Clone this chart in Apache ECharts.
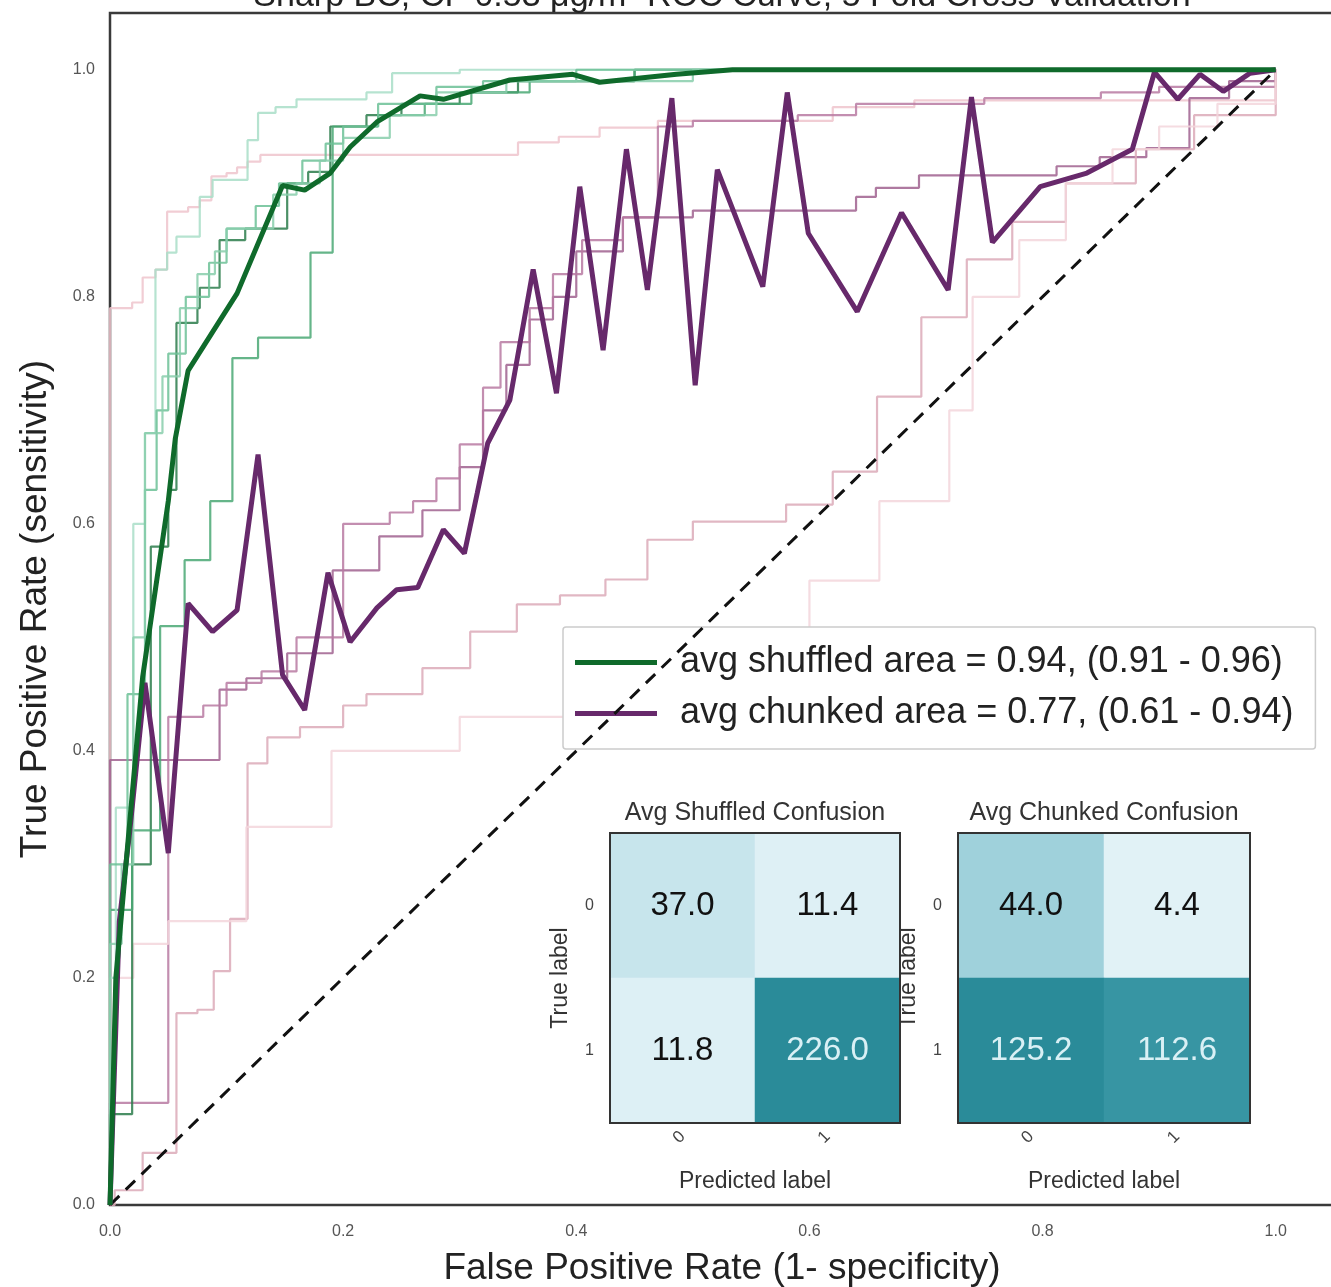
<!DOCTYPE html>
<html>
<head>
<meta charset="utf-8">
<title>ROC</title>
<script src="https://cdn.jsdelivr.net/npm/echarts@6/dist/echarts.min.js"></script>
<style>
  html, body { margin: 0; padding: 0; background: #fff; }
  #chart { width: 1331px; height: 1287px; }
</style>
</head>
<body>
<div id="chart"></div>
<script type="text/javascript">
// each point is [fpr, tpr] where the ROC step lands
var shuffledFolds = [
  [[0,0],[0,0.08],[0.019,0.3],[0.035,0.58],[0.05,0.63],[0.057,0.777],[0.075,0.79],[0.077,0.808],[0.094,0.85],[0.116,0.86],[0.152,0.9],[0.17,0.91],[0.189,0.95],[0.22,0.96],[0.25,0.97],[0.3,0.98],[0.35,0.99],[0.45,1],[1,1]],
  [[0,0],[0,0.26],[0.019,0.33],[0.043,0.51],[0.064,0.568],[0.086,0.62],[0.105,0.746],[0.127,0.764],[0.172,0.839],[0.191,0.95],[0.23,0.96],[0.27,0.97],[0.31,0.98],[0.36,0.99],[0.45,1],[1,1]],
  [[0,0],[0,0.2],[0.005,0.35],[0.02,0.6],[0.03,0.68],[0.039,0.824],[0.049,0.839],[0.057,0.853],[0.077,0.888],[0.088,0.903],[0.118,0.938],[0.127,0.962],[0.142,0.967],[0.16,0.974],[0.22,0.98],[0.242,0.997],[0.3,1],[1,1]],
  [[0,0],[0,0.3],[0.015,0.45],[0.03,0.63],[0.04,0.7],[0.05,0.75],[0.065,0.8],[0.085,0.83],[0.1,0.86],[0.125,0.88],[0.145,0.9],[0.165,0.92],[0.185,0.935],[0.2,0.95],[0.23,0.97],[0.28,0.985],[0.32,0.99],[0.4,1],[1,1]],
  [[0,0],[0,0.23],[0.01,0.3],[0.02,0.5],[0.03,0.68],[0.045,0.73],[0.06,0.79],[0.075,0.82],[0.09,0.84],[0.1,0.86],[0.14,0.89],[0.16,0.9],[0.18,0.92],[0.2,0.94],[0.24,0.96],[0.28,0.98],[0.34,0.99],[0.5,1],[1,1]]
];
var chunkedFolds = [
  [[0,0],[0,0.79],[0.019,0.795],[0.028,0.817],[0.039,0.824],[0.049,0.875],[0.067,0.879],[0.077,0.885],[0.087,0.906],[0.1,0.909],[0.109,0.914],[0.118,0.919],[0.129,0.925],[0.35,0.936],[0.385,0.941],[0.42,0.949],[0.47,0.955],[0.62,0.967],[0.69,0.973],[1,1]],
  [[0,0],[0,0.392],[0.094,0.454],[0.117,0.464],[0.152,0.486],[0.191,0.559],[0.231,0.589],[0.268,0.612],[0.3,0.65],[0.32,0.7],[0.34,0.74],[0.36,0.78],[0.38,0.8],[0.4,0.84],[0.44,0.87],[0.5,0.876],[0.64,0.888],[0.657,0.896],[0.694,0.907],[0.812,0.915],[0.849,0.923],[0.889,0.931],[0.926,0.975],[0.96,0.99],[1,1]],
  [[0,0],[0,0.09],[0.05,0.43],[0.08,0.44],[0.1,0.46],[0.13,0.47],[0.16,0.5],[0.2,0.6],[0.24,0.61],[0.26,0.62],[0.28,0.64],[0.3,0.67],[0.32,0.72],[0.335,0.76],[0.36,0.79],[0.38,0.82],[0.405,0.85],[0.44,0.87],[0.47,0.95],[0.5,0.955],[0.59,0.96],[0.64,0.97],[0.75,0.975],[0.85,0.98],[0.9,0.985],[1,1]],
  [[0,0],[0.004,0.013],[0.028,0.046],[0.057,0.169],[0.075,0.172],[0.089,0.206],[0.103,0.252],[0.118,0.389],[0.135,0.412],[0.163,0.421],[0.2,0.44],[0.22,0.45],[0.268,0.473],[0.309,0.505],[0.349,0.529],[0.386,0.537],[0.425,0.551],[0.461,0.586],[0.5,0.602],[0.58,0.617],[0.62,0.646],[0.658,0.712],[0.696,0.782],[0.735,0.833],[0.774,0.866],[0.82,0.9],[0.88,0.93],[0.93,0.96],[1,1]],
  [[0,0],[0,0.2],[0.02,0.23],[0.05,0.25],[0.117,0.333],[0.19,0.4],[0.3,0.43],[0.4,0.45],[0.5,0.48],[0.6,0.55],[0.66,0.62],[0.72,0.7],[0.74,0.8],[0.78,0.85],[0.82,0.9],[0.86,0.93],[0.9,0.95],[0.95,0.97],[1,1]]
];
var avgShuffled = [[0,0],[0.005,0.2],[0.028,0.465],[0.05,0.62],[0.056,0.675],[0.067,0.735],[0.109,0.803],[0.148,0.898],[0.167,0.894],[0.189,0.909],[0.206,0.932],[0.229,0.954],[0.266,0.977],[0.286,0.974],[0.343,0.991],[0.397,0.996],[0.42,0.989],[0.486,0.996],[0.534,1],[1,1]];
var avgChunked = [[0,0],[0.008,0.25],[0.017,0.33],[0.03,0.46],[0.05,0.31],[0.067,0.53],[0.088,0.505],[0.109,0.524],[0.127,0.661],[0.148,0.467],[0.167,0.436],[0.187,0.557],[0.206,0.496],[0.229,0.526],[0.246,0.542],[0.264,0.544],[0.286,0.595],[0.304,0.574],[0.315,0.627],[0.324,0.671],[0.343,0.709],[0.363,0.824],[0.383,0.715],[0.403,0.897],[0.423,0.753],[0.443,0.93],[0.461,0.806],[0.482,0.975],[0.502,0.722],[0.521,0.912],[0.56,0.809],[0.581,0.98],[0.599,0.856],[0.641,0.787],[0.679,0.874],[0.719,0.806],[0.739,0.976],[0.757,0.848],[0.798,0.897],[0.838,0.909],[0.877,0.93],[0.896,0.998],[0.916,0.974],[0.935,0.996],[0.955,0.981],[0.978,0.997],[1,1]];
var chanceLine = [[0,0],[1,1]];

var shuffledName = 'avg shuffled area = 0.94, (0.91 - 0.96)';
var chunkedName = 'avg chunked area = 0.77, (0.61 - 0.94)';

var confLabels = ['0', '1'];
var shuffledConfusion = [[37.0, 11.4], [11.8, 226.0]];
var chunkedConfusion = [[44.0, 4.4], [125.2, 112.6]];

var shuffledColors = ['#2c7d4b', '#4aa874', '#a9dec8', '#6cc196', '#88ceab'];
var chunkedColors = ['#efc4cc', '#a0618f', '#b87aa2', '#dcaab9', '#f3d6dc'];
var cellColors = ['#e8f5f9', '#b5dde5', '#7ebfcc', '#4ba4b3', '#2a8b99'];
var FONT = '"Liberation Sans", Arial, sans-serif';

var myChart = echarts.init(document.getElementById('chart'));

var series = [];
shuffledFolds.forEach(function (d, i) {
  series.push({
    type: 'line', name: 'shuffled fold ' + (i + 1), data: d, step: 'end',
    xAxisIndex: 0, yAxisIndex: 0, symbol: 'none', silent: true, z: 3,
    lineStyle: { color: shuffledColors[i], width: 2.2, opacity: 0.85 }
  });
});
chunkedFolds.forEach(function (d, i) {
  series.push({
    type: 'line', name: 'chunked fold ' + (i + 1), data: d, step: 'end',
    xAxisIndex: 0, yAxisIndex: 0, symbol: 'none', silent: true, z: 2,
    lineStyle: { color: chunkedColors[i], width: 2.2, opacity: 0.85 }
  });
});
series.push({
  type: 'line', name: chunkedName, data: avgChunked, symbol: 'none', z: 5,
  xAxisIndex: 0, yAxisIndex: 0, itemStyle: { color: '#67296b' },
  lineStyle: { color: '#67296b', width: 5 }
});
series.push({
  type: 'line', name: shuffledName, data: avgShuffled, symbol: 'none', z: 6,
  xAxisIndex: 0, yAxisIndex: 0, itemStyle: { color: '#0f6a2b' },
  lineStyle: { color: '#0f6a2b', width: 5 }
});
series.push({
  type: 'line', name: 'chance', data: chanceLine, symbol: 'none', z: 4,
  xAxisIndex: 0, yAxisIndex: 0,
  lineStyle: { color: '#111', width: 3, type: [13, 9] }
});

function cells(mat) {
  var max = Math.max.apply(null, mat[0].concat(mat[1]));
  var out = [];
  mat.forEach(function (row, r) {
    row.forEach(function (v, c) {
      out.push({ value: [c, r, v], label: { color: v > max * 0.5 ? '#d9f0f5' : '#111' } });
    });
  });
  return { data: out, max: max };
}
var shufCells = cells(shuffledConfusion);
var chunkCells = cells(chunkedConfusion);

var heatIdx = series.length;
[shufCells, chunkCells].forEach(function (hc, k) {
  series.push({
    type: 'heatmap', xAxisIndex: k + 1, yAxisIndex: k + 1, data: hc.data,
    itemStyle: { borderWidth: 0 }, silent: true,
    label: {
      show: true, fontSize: 33, fontFamily: FONT,
      formatter: function (p) { return p.value[2].toFixed(1); }
    },
    emphasis: { disabled: true }
  });
});

function heatX(idx) {
  return {
    type: 'category', gridIndex: idx, data: confLabels,
    axisLine: { show: false }, axisTick: { show: false }, splitLine: { show: false },
    axisLabel: { rotate: 45, margin: 11, fontSize: 17, color: '#444', fontFamily: FONT },
    name: 'Predicted label', nameLocation: 'middle', nameGap: 47,
    nameTextStyle: { fontSize: 23, color: '#333', fontFamily: FONT }
  };
}
function heatY(idx) {
  return {
    type: 'category', gridIndex: idx, data: confLabels, inverse: true,
    axisLine: { show: false }, axisTick: { show: false }, splitLine: { show: false },
    axisLabel: { margin: 16, fontSize: 16, color: '#444', fontFamily: FONT },
    name: 'True label', nameLocation: 'middle', nameGap: 38,
    nameTextStyle: { fontSize: 23, color: '#333', fontFamily: FONT }
  };
}

myChart.setOption({
  animation: false,
  backgroundColor: '#fff',
  textStyle: { fontFamily: FONT },
  grid: [
    { left: 110, top: 13, width: 1224, height: 1192, outerBoundsMode: 'none', show: true, borderColor: '#3a3a3a', borderWidth: 2.5, backgroundColor: 'transparent' },
    { left: 610, top: 833, width: 290, height: 290, outerBoundsMode: 'none', show: true, borderColor: '#333', borderWidth: 2, backgroundColor: 'transparent', z: 10 },
    { left: 958, top: 833, width: 292, height: 290, outerBoundsMode: 'none', show: true, borderColor: '#333', borderWidth: 2, backgroundColor: 'transparent', z: 10 }
  ],
  xAxis: [
    {
      type: 'value', gridIndex: 0, min: 0, max: 1.05, interval: 0.2,
      axisLine: { show: false }, axisTick: { show: false }, splitLine: { show: false },
      axisLabel: { showMaxLabel: false, margin: 19, fontSize: 16, color: '#555', formatter: function (v) { return v.toFixed(1); } },
      name: 'False Positive Rate (1- specificity)', nameLocation: 'middle', nameGap: 45,
      nameTextStyle: { fontSize: 37, color: '#222' }
    },
    heatX(1), heatX(2)
  ],
  yAxis: [
    {
      type: 'value', gridIndex: 0, min: 0, max: 1.05, interval: 0.2,
      axisLine: { show: false }, axisTick: { show: false }, splitLine: { show: false },
      axisLabel: { showMaxLabel: false, margin: 15, fontSize: 16, color: '#555', formatter: function (v) { return v.toFixed(1); } },
      name: 'True Positive Rate (sensitivity)', nameLocation: 'middle', nameGap: 56,
      nameTextStyle: { fontSize: 37, color: '#222' }
    },
    heatY(1), heatY(2)
  ],
  visualMap: [
    { show: false, seriesIndex: heatIdx, dimension: 2, min: 0, max: shufCells.max, inRange: { color: cellColors } },
    { show: false, seriesIndex: heatIdx + 1, dimension: 2, min: 0, max: chunkCells.max, inRange: { color: cellColors } }
  ],
  legend: {
    data: [
      { name: shuffledName, icon: 'rect' },
      { name: chunkedName, icon: 'rect' }
    ],
    orient: 'vertical', left: 563, top: 627,
    itemWidth: 82, itemHeight: 5, itemGap: 10,
    padding: [15, 22, 15, 12],
    backgroundColor: '#fff', borderColor: '#cccccc', borderWidth: 1.5, borderRadius: 3,
    textStyle: { fontSize: 36, color: '#222', lineHeight: 41, padding: [0, 0, 0, 18] },
    selectedMode: false
  },
  graphic: [
    { type: 'text', x: 722, y: -3, z: 20, style: { text: 'Sharp BC, CI- 0.53 μg/m³ ROC Curve, 5 Fold Cross Validation', fill: '#222', fontSize: 34, fontFamily: FONT, align: 'center', verticalAlign: 'middle', textAlign: 'center', textVerticalAlign: 'middle' } },
    { type: 'text', x: 755, y: 813, z: 20, style: { text: 'Avg Shuffled Confusion', fill: '#333', fontSize: 25, fontFamily: FONT, align: 'center', verticalAlign: 'middle', textAlign: 'center', textVerticalAlign: 'middle' } },
    { type: 'text', x: 1104, y: 813, z: 20, style: { text: 'Avg Chunked Confusion', fill: '#333', fontSize: 25, fontFamily: FONT, align: 'center', verticalAlign: 'middle', textAlign: 'center', textVerticalAlign: 'middle' } }
  ],
  series: series
});
</script>
</body>
</html>
